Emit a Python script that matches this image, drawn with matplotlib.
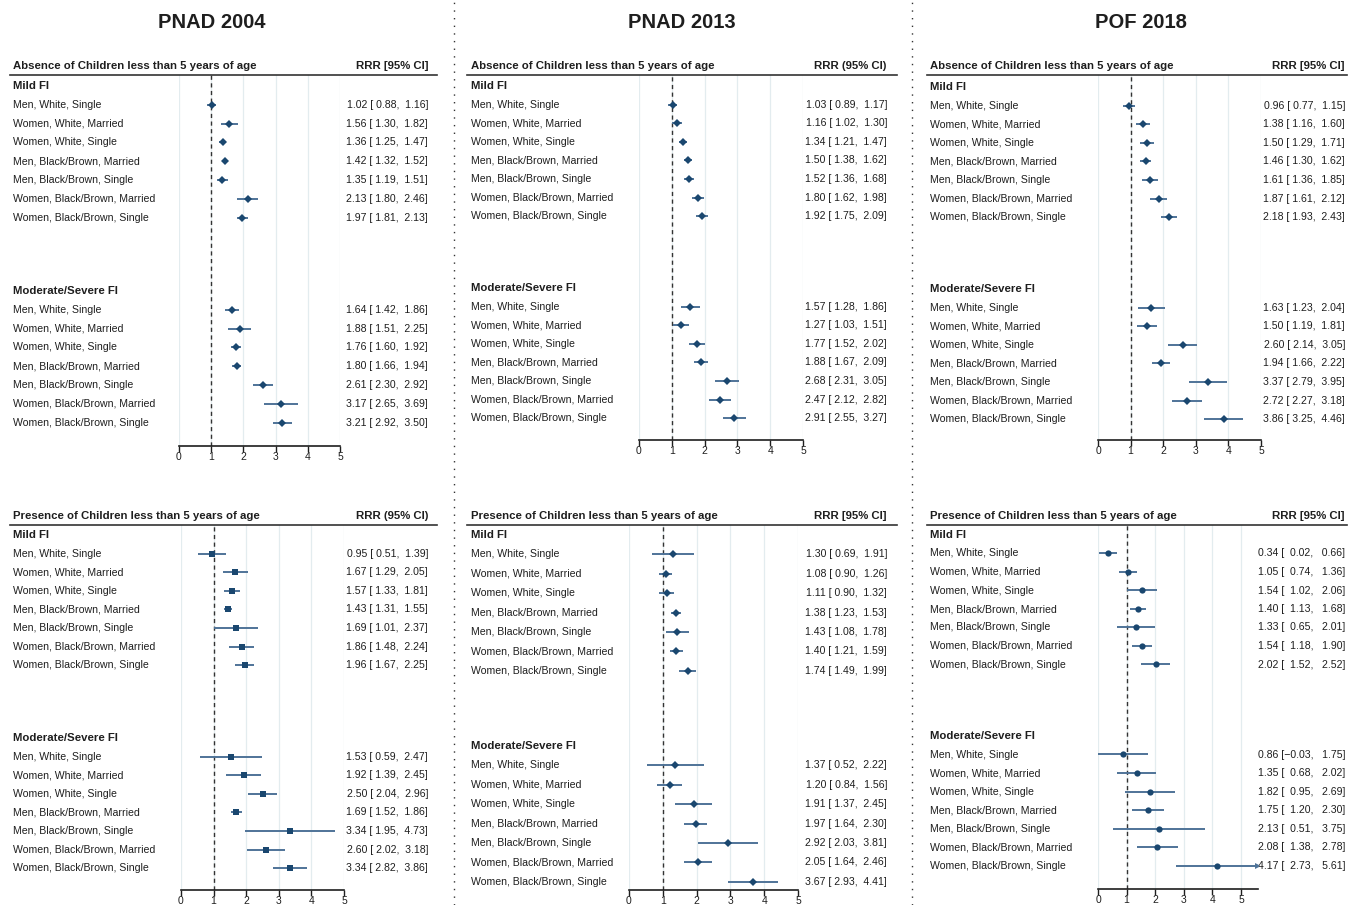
import matplotlib
matplotlib.use("Agg")
import matplotlib.pyplot as plt
from matplotlib.lines import Line2D
from matplotlib.transforms import blended_transform_factory

# ---- data -------------------------------------------------------------
surveys = ["PNAD 2004", "PNAD 2013", "POF 2018"]
outcomes = ["Absence of Children less than 5 years of age",
            "Presence of Children less than 5 years of age"]
groups = ["Mild FI", "Moderate/Severe FI"]
profiles = ["Men, White, Single", "Women, White, Married", "Women, White, Single",
            "Men, Black/Brown, Married", "Men, Black/Brown, Single",
            "Women, Black/Brown, Married", "Women, Black/Brown, Single"]
ticks = [0, 1, 2, 3, 4, 5]

# each list: 7 Mild FI values followed by 7 Moderate/Severe FI values
pnad04_abs_rrr = [1.02, 1.56, 1.36, 1.42, 1.35, 2.13, 1.97, 1.64, 1.88, 1.76, 1.80, 2.61, 3.17, 3.21]
pnad04_abs_lo = [0.88, 1.30, 1.25, 1.32, 1.19, 1.80, 1.81, 1.42, 1.51, 1.60, 1.66, 2.30, 2.65, 2.92]
pnad04_abs_hi = [1.16, 1.82, 1.47, 1.52, 1.51, 2.46, 2.13, 1.86, 2.25, 1.92, 1.94, 2.92, 3.69, 3.50]

pnad13_abs_rrr = [1.03, 1.16, 1.34, 1.50, 1.52, 1.80, 1.92, 1.57, 1.27, 1.77, 1.88, 2.68, 2.47, 2.91]
pnad13_abs_lo = [0.89, 1.02, 1.21, 1.38, 1.36, 1.62, 1.75, 1.28, 1.03, 1.52, 1.67, 2.31, 2.12, 2.55]
pnad13_abs_hi = [1.17, 1.30, 1.47, 1.62, 1.68, 1.98, 2.09, 1.86, 1.51, 2.02, 2.09, 3.05, 2.82, 3.27]

pof18_abs_rrr = [0.96, 1.38, 1.50, 1.46, 1.61, 1.87, 2.18, 1.63, 1.50, 2.60, 1.94, 3.37, 2.72, 3.86]
pof18_abs_lo = [0.77, 1.16, 1.29, 1.30, 1.36, 1.61, 1.93, 1.23, 1.19, 2.14, 1.66, 2.79, 2.27, 3.25]
pof18_abs_hi = [1.15, 1.60, 1.71, 1.62, 1.85, 2.12, 2.43, 2.04, 1.81, 3.05, 2.22, 3.95, 3.18, 4.46]

pnad04_pre_rrr = [0.95, 1.67, 1.57, 1.43, 1.69, 1.86, 1.96, 1.53, 1.92, 2.50, 1.69, 3.34, 2.60, 3.34]
pnad04_pre_lo = [0.51, 1.29, 1.33, 1.31, 1.01, 1.48, 1.67, 0.59, 1.39, 2.04, 1.52, 1.95, 2.02, 2.82]
pnad04_pre_hi = [1.39, 2.05, 1.81, 1.55, 2.37, 2.24, 2.25, 2.47, 2.45, 2.96, 1.86, 4.73, 3.18, 3.86]

pnad13_pre_rrr = [1.30, 1.08, 1.11, 1.38, 1.43, 1.40, 1.74, 1.37, 1.20, 1.91, 1.97, 2.92, 2.05, 3.67]
pnad13_pre_lo = [0.69, 0.90, 0.90, 1.23, 1.08, 1.21, 1.49, 0.52, 0.84, 1.37, 1.64, 2.03, 1.64, 2.93]
pnad13_pre_hi = [1.91, 1.26, 1.32, 1.53, 1.78, 1.59, 1.99, 2.22, 1.56, 2.45, 2.30, 3.81, 2.46, 4.41]

pof18_pre_rrr = [0.34, 1.05, 1.54, 1.40, 1.33, 1.54, 2.02, 0.86, 1.35, 1.82, 1.75, 2.13, 2.08, 4.17]
pof18_pre_lo = [0.02, 0.74, 1.02, 1.13, 0.65, 1.18, 1.52, -0.03, 0.68, 0.95, 1.20, 0.51, 1.38, 2.73]
pof18_pre_hi = [0.66, 1.36, 2.06, 1.68, 2.01, 1.90, 2.52, 1.75, 2.02, 2.69, 2.30, 3.75, 2.78, 5.61]

# ---- layout (pixels of a 1363x905 canvas) -----------------------------
W, H = 1363, 905
NAVY = "#1a476f"
CI = "#4f7398"
INK = "#1e1e1e"
GRID = "#e3ecef"
FONT = "Liberation Sans"

col_label_x = [13, 471, 930]
col_right_x = [428, 887, 1345]
col_rule = [(10, 437), (467, 897), (927, 1347)]
col_title_x = [212, 682, 1141]
row_rule_y = [75, 525]

panels = [
    # (col, row, est, lo, hi, x0px, x5px, mild_px, mod_px, pitch, axis_px, marker, ms, ci_head, width)
    (0, 0, pnad04_abs_rrr, pnad04_abs_lo, pnad04_abs_hi, 179, 340, 86, 291, 18.8, 446, "D", 4.5, "RRR [95% CI]", 5),
    (1, 0, pnad13_abs_rrr, pnad13_abs_lo, pnad13_abs_hi, 639, 803, 86, 288, 18.6, 440, "D", 4.5, "RRR (95% CI)", 5),
    (2, 0, pof18_abs_rrr, pof18_abs_lo, pof18_abs_hi, 1098, 1261, 87, 289, 18.6, 440, "D", 4.5, "RRR [95% CI]", 5),
    (0, 1, pnad04_pre_rrr, pnad04_pre_lo, pnad04_pre_hi, 181, 344, 535, 738, 18.6, 890, "s", 4.5, "RRR (95% CI)", 5),
    (1, 1, pnad13_pre_rrr, pnad13_pre_lo, pnad13_pre_hi, 629, 798, 535, 746, 19.4, 890, "D", 4.5, "RRR [95% CI]", 5),
    (2, 1, pof18_pre_rrr, pof18_pre_lo, pof18_pre_hi, 1098, 1241, 535, 736, 18.5, 889, "o", 4.5, "RRR [95% CI]", 6),
]

plt.rcParams["font.family"] = [FONT, "DejaVu Sans"]
fig = plt.figure(figsize=(W / 100, H / 100), dpi=100)
fig.patch.set_facecolor("white")


def fmt(value, width):
    # the minus sign is wide enough to fill the padding slot on its own
    if value < 0:
        width -= 1
    return f"{value:{width}.2f}".replace("-", "\u2212")


for col, row, est, lo, hi, x0, x5, mild_px, mod_px, pitch, axis_px, marker, ms, ci_head, width in panels:
    unit = (x5 - x0) / 5.0
    xmax = max(5.0, max(hi))
    top_px = row_rule_y[row]
    ax = fig.add_axes([x0 / W, 1 - axis_px / H, xmax * unit / W, (axis_px - top_px) / H])
    ax.set_xlim(0, xmax)
    ax.set_ylim(axis_px, top_px)
    for side in ("top", "right", "left"):
        ax.spines[side].set_visible(False)
    ax.spines["bottom"].set_color(INK)
    ax.spines["bottom"].set_linewidth(1.2)
    ax.spines["bottom"].set_bounds(0, xmax)
    ax.set_xticks(ticks)
    ax.set_yticks([])
    ax.tick_params(axis="x", length=4, width=1, colors=INK, labelsize=7.5, pad=0.5)
    ax.xaxis.grid(True, color=GRID, linewidth=0.9)
    ax.set_axisbelow(True)
    ax.axvline(1, color="#333333", linestyle=(0, (3, 2.5)), linewidth=1.0, zorder=2)

    # row positions: group header, then its seven profiles
    heads = [mild_px, mod_px]
    ys = [h + pitch * (i + 1) for h in heads for i in range(len(profiles))]

    ax.hlines(ys, lo, hi, color=CI, linewidth=1.4, zorder=3)
    ax.plot(est, ys, linestyle="none", marker=marker, markersize=ms,
            color=NAVY, markeredgewidth=0, zorder=4)
    over = [(h, y) for h, y in zip(hi, ys) if h > 5]
    if over:
        ax.plot([o[0] for o in over], [o[1] for o in over], linestyle="none",
                marker=">", markersize=4, color=CI, markeredgewidth=0, zorder=4)

    tr = blended_transform_factory(fig.transFigure, ax.transData)
    lx = col_label_x[col] / W
    rx = col_right_x[col] / W
    ax.text(lx, top_px - 9, outcomes[row], transform=tr, fontsize=8.2,
            fontweight="bold", color=INK, va="center", ha="left")
    ax.text(rx, top_px - 9, ci_head, transform=tr, fontsize=8.2,
            fontweight="bold", color=INK, va="center", ha="right")
    for g, h in zip(groups, heads):
        ax.text(lx, h, g, transform=tr, fontsize=8.2, fontweight="bold",
                color=INK, va="center", ha="left")
    for i, y in enumerate(ys):
        ax.text(lx, y, profiles[i % len(profiles)], transform=tr, fontsize=7.6,
                color=INK, va="center", ha="left")
        note = f"{est[i]:.2f} [{fmt(lo[i], width)}, {fmt(hi[i], width)}]"
        ax.text(rx, y, note, transform=tr, fontsize=7.6, color=INK,
                va="center", ha="right")

    # rule under the panel heading
    x1, x2 = col_rule[col]
    fig.add_artist(Line2D([x1 / W, x2 / W], [1 - top_px / H] * 2,
                          color="#333333", linewidth=1.2))

for col, name in enumerate(surveys):
    fig.text(col_title_x[col] / W, 1 - 22 / H, name, fontsize=14.5,
             fontweight="bold", color=INK, ha="center", va="center")

# dotted separators between the surveys
for sx in (454, 912):
    fig.add_artist(Line2D([sx / W, sx / W], [0, 1], color="#333333",
                          linewidth=1.0, linestyle=(0, (1, 4.5))))

fig.savefig("out.png", dpi=100, facecolor="white")
